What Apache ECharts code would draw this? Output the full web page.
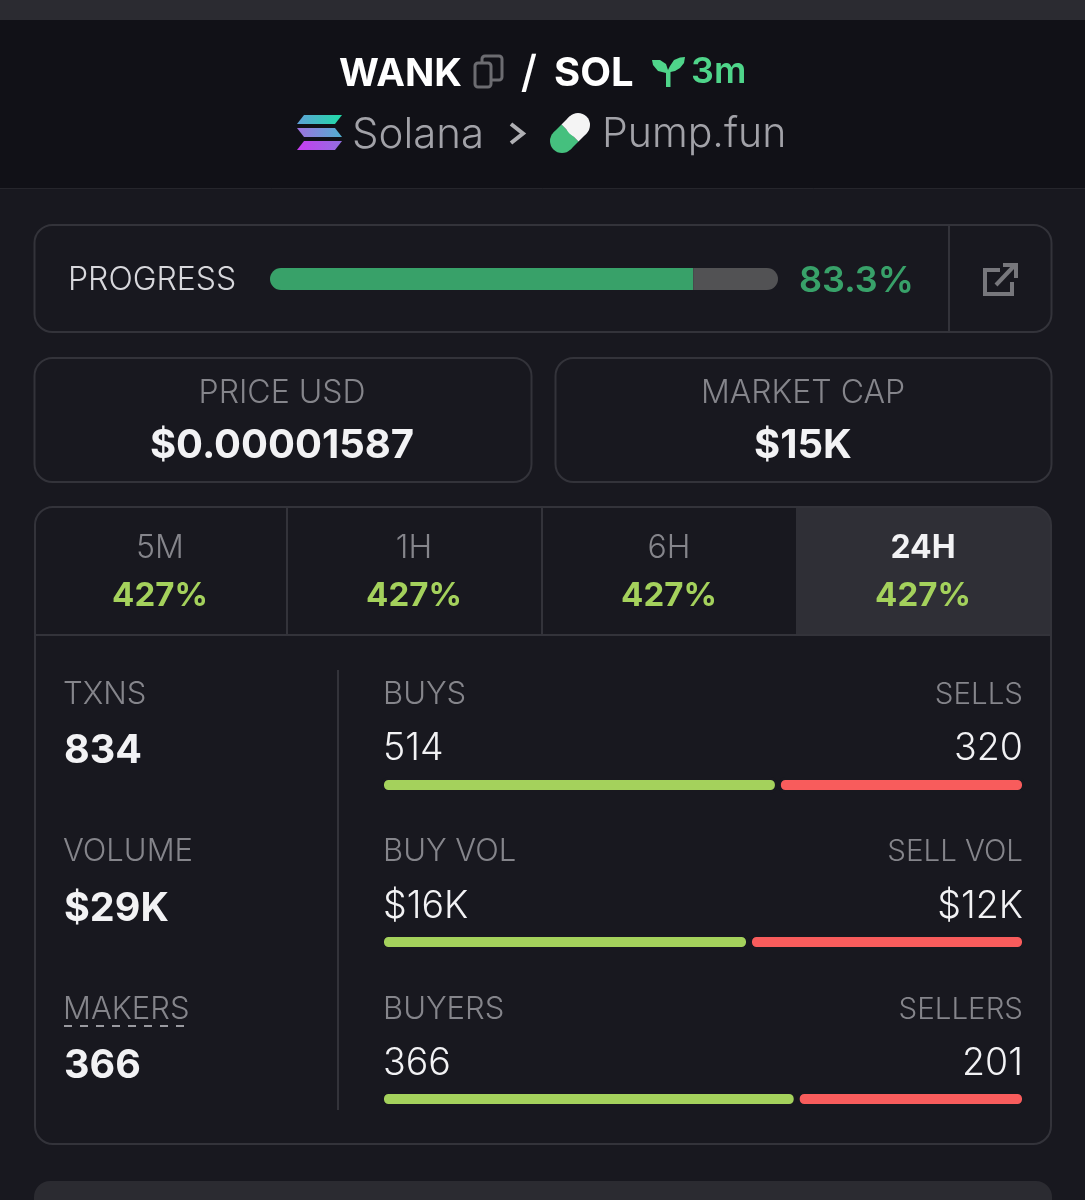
<!DOCTYPE html>
<html>
<head>
<meta charset="utf-8">
<style>html,body{margin:0;padding:0;background:#18181f}#c{width:1085px;height:1200px}</style>
<script src="https://cdn.jsdelivr.net/npm/echarts@6/dist/echarts.min.js"></script>
</head>
<body>
<div id="c"></div>
<script>
// ---- data ----
const progressValues = [83.3, 16.7];
const buyValues = [514, 16, 366];
const sellValues = [320, 12, 201];
const buyLabels = ['BUYS', 'BUY VOL', 'BUYERS'];
const sellLabels = ['SELLS', 'SELL VOL', 'SELLERS'];
const buyTexts = ['514', '$16K', '366'];
const sellTexts = ['320', '$12K', '201'];
const tabLabels = ['5M', '1H', '6H', '24H'];
const tabValues = ['427%', '427%', '427%', '427%'];
const statLabels = ['TXNS', 'VOLUME', 'MAKERS'];
const statValues = ['834', '$29K', '366'];

// ---- style ----
const BG = '#18181f', HEAD = '#111117', PANEL = '#2b2b31', LINE = '#33333a';
const GREY = '#85858b', WHITE = '#f2f2f4', LIME = '#a4d15c', RED = '#f85c5c', FONT = 'Inter, "Noto Sans", sans-serif';
const rowLabelY = [695, 852, 1010], rowValueY = [749, 907, 1064], rowBarY = [785, 942, 1099];
const tabX = [160, 414, 669, 923];

const g = [];
function t(text, x, y, size, color, weight, align) {
  g.push({type:'text', silent:true, z:10, x, y, style:{text, fontSize:size, fill:color, fontWeight:weight||300,
    fontFamily:FONT, textAlign:align||'left', textVerticalAlign:'middle'}});
}
function box(x, y, w, h, r, fill, stroke, lw) {
  g.push({type:'rect', silent:true, z:1, shape:{x, y, width:w, height:h, r}, style:{fill:fill||'transparent', stroke:stroke||null, lineWidth:lw||0}});
}
function ln(pts, color, lw, dash) {
  g.push({type:'polyline', silent:true, z:5, shape:{points:pts}, style:{stroke:color, lineWidth:lw, fill:null, lineDash:dash||null, lineCap:'butt'}});
}
function poly(pts, fill) {
  g.push({type:'polygon', silent:true, z:5, shape:{points:pts}, style:{fill}});
}
function disc(cx, cy, r, fill) {
  g.push({type:'circle', silent:true, z:5, shape:{cx, cy, r}, style:{fill}});
}
function grad(a, b) { return {type:'linear', x:0, y:0, x2:1, y2:0, colorStops:[{offset:0,color:a},{offset:1,color:b}]}; }

// page panels
box(0, 0, 1085, 20, 0, PANEL);
box(0, 20, 1085, 168, 0, HEAD);
ln([[0,188.5],[1085,188.5]], '#26262c', 1);
box(34, 1181, 1018, 40, 16, PANEL);

// header
t('WANK', 339, 74, 38.5, '#ffffff', 700);
box(482, 56, 20, 24, 3, HEAD, '#6c6c71', 3);
box(475, 63, 16, 24, 3, HEAD, '#6c6c71', 3);
t('/', 529, 74, 44, '#ffffff', 500, 'center');
t('SOL', 554, 74, 40, '#ffffff', 700);
poly([[666,73],[658,71],[653,65],[652,60],[660,60],[666,64],[668,70],[670,66],[674,60],[680,57.5],[685,57],[684,63],[680,68],[675,71],[670.5,72],[670.5,87],[666,87]], '#4fd58a');
t('3m', 691, 72, 36, '#4fd58a', 600);

poly([[304,115],[342,115],[335,124],[297,124]], grad('#5fa0d8', '#1fdca6'));
poly([[297,128],[335,128],[342,137],[304,137]], grad('#a070e0', '#50b0d0'));
poly([[304,141],[342,141],[335,150],[297,150]], grad('#c83cf0', '#9070e0'));
t('Solana', 352, 135, 42, '#a2a2a8', 300);
ln([[511,124],[523,133.5],[511,143]], '#b0b0b4', 4);
disc(562, 141, 12, '#45c07e');
poly([[578.5,141.5],[561.5,124.5],[553.5,132.5],[570.5,149.5]], '#45c07e');
disc(578, 125, 12, '#f4f4f4');
poly([[578.5,141.5],[561.5,124.5],[569.5,116.5],[586.5,133.5]], '#f4f4f4');
t('Pump.fun', 602, 135, 41, '#a2a2a8', 300);

// progress card
box(34.5, 225, 1017, 107, 18, null, LINE, 2);
ln([[949,225],[949,332]], LINE, 2);
t('PROGRESS', 68, 280, 32, '#d8d8dc', 300);
t(progressValues[0] + '%', 799, 281, 36, '#38a169', 600);
ln([[1000,270],[985,270],[985,294],[1012,294],[1012,282]], '#77777c', 4);
ln([[996,285],[1014,266]], '#77777c', 4);
ln([[1003,265],[1016,265],[1016,278]], '#77777c', 4);

// price cards
box(34.5, 358, 497, 124, 18, null, LINE, 2);
box(555.5, 358, 496, 124, 18, null, LINE, 2);
t('PRICE USD', 282, 393, 32, GREY, 300, 'center');
t('$0.00001587', 282, 446, 40, WHITE, 700, 'center');
t('MARKET CAP', 803, 393, 32, GREY, 300, 'center');
t('$15K', 803, 446, 40, WHITE, 700, 'center');

// stats card
g.push({type:'rect', silent:true, z:1, shape:{x:796, y:507, width:255, height:128, r:[0,18,0,0]}, style:{fill:'#2f2f36'}});
box(35, 507, 1016, 637, 18, null, LINE, 2);
ln([[35,635],[1051,635]], LINE, 2);
ln([[287,507],[287,635]], LINE, 2);
ln([[542,507],[542,635]], LINE, 2);
ln([[338,670],[338,1110]], LINE, 2);
tabLabels.forEach((s, i) => {
  t(s, tabX[i], 548, 32, i === 3 ? WHITE : GREY, i === 3 ? 700 : 300, 'center');
  t(tabValues[i], tabX[i], 596, 33, LIME, 700, 'center');
});
statLabels.forEach((s, i) => {
  t(s, 63, rowLabelY[i], 31, GREY, 300);
  t(statValues[i], 64, rowValueY[i] + 2, 39.5, WHITE, 700);
  t(buyLabels[i], 383, rowLabelY[i], 31, GREY, 300);
  t(sellLabels[i], 1023, rowLabelY[i], 29.5, GREY, 300, 'right');
  t(buyTexts[i], 383, rowValueY[i], 37.5, WHITE, 300);
  t(sellTexts[i], 1023, rowValueY[i], 37.5, WHITE, 300, 'right');
});
ln([[64,1026],[190,1026]], '#9a9aa0', 2, [8, 8]);

// bars: row 0 is the progress bar, rows 1-3 the buy/sell splits
const grids = [{left:270, width:508, top:268, height:22}];
const xAxes = [{gridIndex:0, type:'value', min:0, max:100, show:false}];
const yAxes = [{gridIndex:0, type:'category', data:['progress'], show:false}];
const series = [
  {type:'bar', xAxisIndex:0, yAxisIndex:0, stack:'p', barWidth:22, silent:true, data:[progressValues[0]], itemStyle:{color:'#38a169', borderRadius:[11,0,0,11]}},
  {type:'bar', xAxisIndex:0, yAxisIndex:0, stack:'p', barWidth:22, silent:true, data:[progressValues[1]], itemStyle:{color:'#525254', borderRadius:[0,11,11,0]}}
];
buyValues.forEach((b, i) => {
  const k = i + 1;
  grids.push({left:381, width:644, top:rowBarY[i] - 8, height:16});
  xAxes.push({gridIndex:k, type:'value', min:0, max:b + sellValues[i], show:false});
  yAxes.push({gridIndex:k, type:'category', data:[buyLabels[i]], show:false});
  const border = {borderColor:BG, borderWidth:3, borderRadius:6};
  series.push({type:'bar', xAxisIndex:k, yAxisIndex:k, stack:'s' + k, barWidth:16, silent:true, data:[b], itemStyle:Object.assign({color:LIME}, border)});
  series.push({type:'bar', xAxisIndex:k, yAxisIndex:k, stack:'s' + k, barWidth:16, silent:true, data:[sellValues[i]], itemStyle:Object.assign({color:RED}, border)});
});

const chart = echarts.init(document.getElementById('c'), null, {renderer:'canvas', width:1085, height:1200});
chart.setOption({
  animation:false, backgroundColor:BG, tooltip:{show:false}, legend:{show:false},
  grid:grids, xAxis:xAxes, yAxis:yAxes, series, graphic:{elements:g}
});
</script>
</body>
</html>
